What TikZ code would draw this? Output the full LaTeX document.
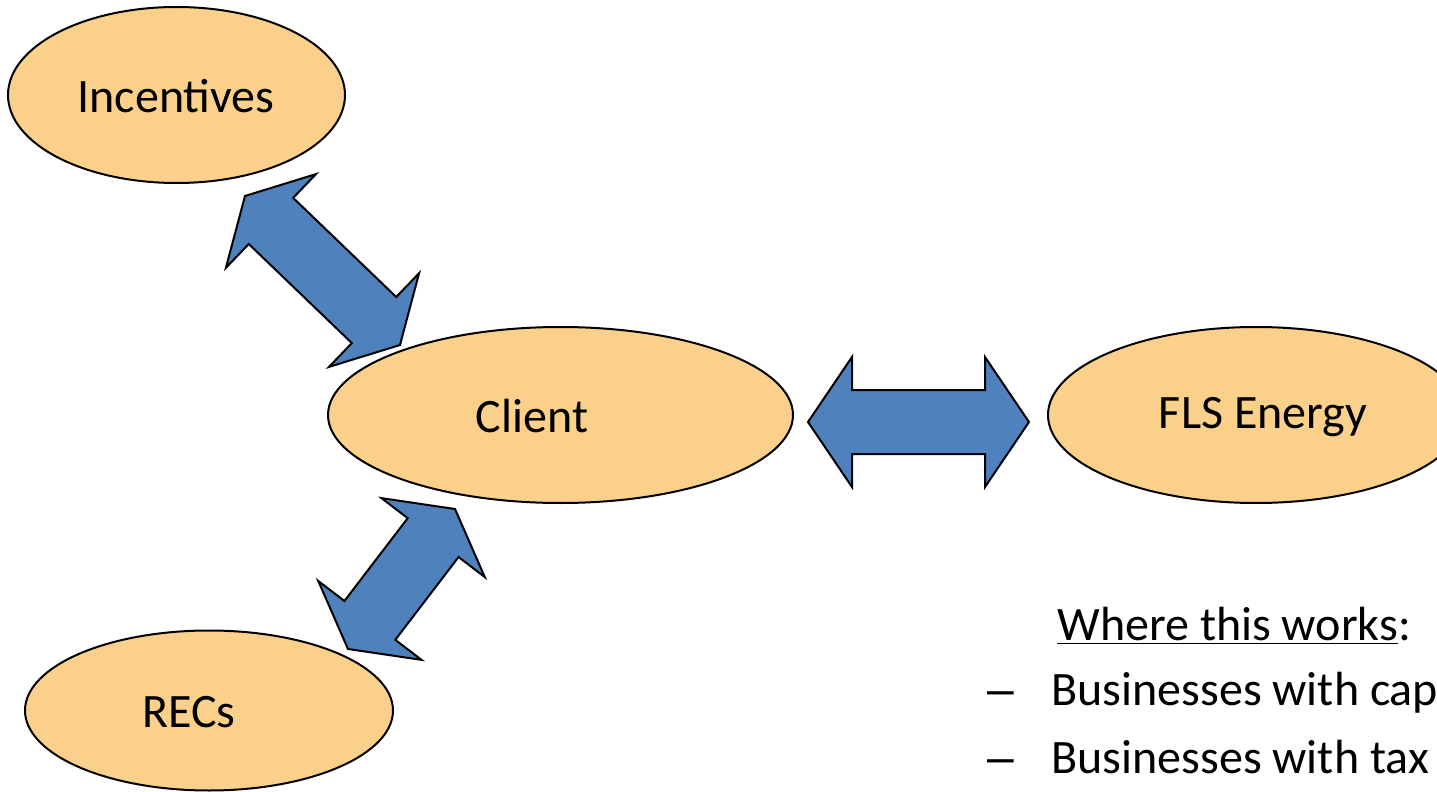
\documentclass[tikz,border=0pt]{standalone}
\usepackage{fontspec}
\setmainfont{Carlito}
\newfontfamily\dashfont{Liberation Sans}
\usetikzlibrary{shapes.geometric,calc}
\definecolor{ovalfill}{HTML}{FBD08A}
\definecolor{arrowblue}{HTML}{4F81BD}
\tikzset{
  oval/.style={ellipse, draw=black, line width=1pt, fill=ovalfill, inner sep=0pt},
  lbl/.style={inner sep=0pt, font=\fontsize{24}{28}\selectfont, text=black},
  blockarrow/.style={fill=arrowblue, draw=black, line width=1pt, line join=miter}
}
% double block arrow between two named coordinates
% #1 tip A, #2 tip B, #3 head length, #4 half head width, #5 half shaft width
\newcommand{\dblblockarrow}[5]{%
  \path[blockarrow] (#1)
    -- ($($(#1)!#3!(#2)$)!#4!90:(#2)$)
    -- ($($(#1)!#3!(#2)$)!#5!90:(#2)$)
    -- ($($(#2)!#3!(#1)$)!#5!-90:(#1)$)
    -- ($($(#2)!#3!(#1)$)!#4!-90:(#1)$)
    -- (#2)
    -- ($($(#2)!#3!(#1)$)!#4!90:(#1)$)
    -- ($($(#2)!#3!(#1)$)!#5!90:(#1)$)
    -- ($($(#1)!#3!(#2)$)!#5!-90:(#2)$)
    -- ($($(#1)!#3!(#2)$)!#4!-90:(#2)$)
    -- cycle;}
\begin{document}
\begin{tikzpicture}[x=0.5pt,y=-0.5pt]
\useasboundingbox (0,0) rectangle (1437,792);
\clip (0,0) rectangle (1437,792);
% ovals
\node[oval, minimum width=337pt/2, minimum height=176pt/2] (inc) at (176.5,95) {};
\node[oval, minimum width=465pt/2, minimum height=176pt/2] (cli) at (560.5,415) {};
\node[oval, minimum width=416pt/2, minimum height=176pt/2] (fls) at (1256,415) {};
\node[oval, minimum width=368pt/2, minimum height=160pt/2] (rec) at (209,710.5) {};
% oval texts
\node[lbl] (incT) at (176,96) {Incentives};
\node[lbl] (cliT) at (532,416) {Client};
\node[lbl] (flsT) at (1263,417) {FLS Energy};
\node[lbl] (recT) at (189,712) {RECs};
% arrow ends
\coordinate (a1) at (245,196);
\coordinate (b1) at (400,345);
\coordinate (a2) at (348,649);
\coordinate (b2) at (455,509);
\coordinate (a3) at (808,422);
\coordinate (b3) at (1029,422);
\dblblockarrow{a1}{b1}{18pt}{32.5pt}{16pt}
\dblblockarrow{a2}{b2}{18pt}{32.5pt}{16pt}
\dblblockarrow{a3}{b3}{22pt}{32.5pt}{16pt}
% text block
\node[lbl, anchor=base west] (where) at (1057,640) {\underline{Where this works}:};
\node[lbl, anchor=base west, font=\fontsize{24}{28}\dashfont] (d1) at (987,705) {–};
\node[lbl, anchor=base west] (t1) at (1051,705) {Businesses with cap};
\node[lbl, anchor=base west, font=\fontsize{24}{28}\dashfont] (d2) at (987,773) {–};
\node[lbl, anchor=base west] (t2) at (1051,773) {Businesses with tax};
\end{tikzpicture}
\end{document}
